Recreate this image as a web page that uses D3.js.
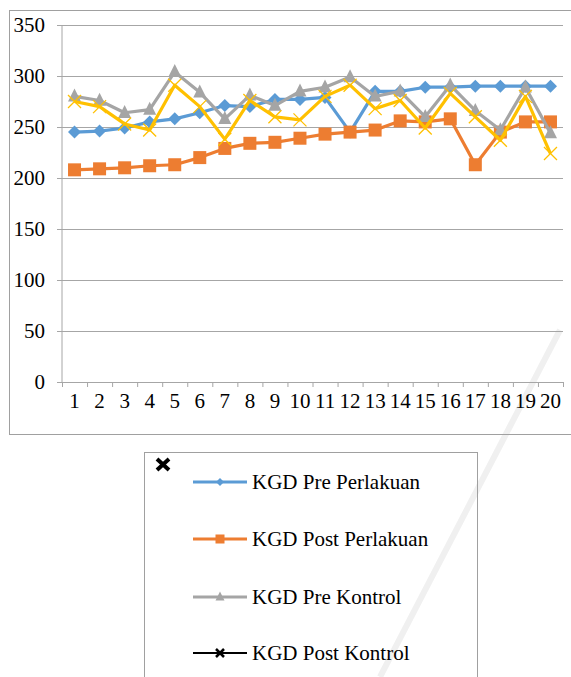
<!DOCTYPE html>
<html>
<head>
<meta charset="utf-8">
<script src="https://cdn.jsdelivr.net/npm/d3@7"></script>
<style>
  body { margin: 0; background: #fff; }
  svg text { font-family: "Liberation Serif", "Times New Roman", serif; }
</style>
</head>
<body>
<div id="chart"></div>
<script>
// data
var categories = d3.range(1, 21).map(String);
var preperlakuan  = [245, 246, 249, 255, 258, 264, 271, 270, 277, 277, 279, 245, 285, 285, 289, 289, 290, 290, 290, 290];
var postperlakuan = [208, 209, 210, 212, 213, 220, 229, 234, 235, 239, 243, 245, 247, 256, 255, 258, 213, 245, 255, 255];
var prekontrol    = [280, 276, 264, 267, 304, 284, 258, 281, 271, 285, 289, 299, 280, 285, 260, 291, 266, 247, 289, 244];
var postkontrol   = [275, 270, 253, 247, 291, 270, 238, 276, 260, 257, 280, 291, 268, 276, 249, 283, 260, 237, 280, 224];
var seriesNames = ['KGD Pre Perlakuan', 'KGD Post Perlakuan', 'KGD Pre Kontrol', 'KGD Post Kontrol'];
var yTicks = [0, 50, 100, 150, 200, 250, 300, 350];

var W = 571, H = 677;
var svg = d3.select('#chart').append('svg')
  .attr('width', W).attr('height', H);

// faint watermark stroke in the background
svg.append('line').attr('x1', 560).attr('y1', 330).attr('x2', 380).attr('y2', 677)
  .style('stroke', '#f0f0f0').style('stroke-width', 6);

// chart frame (right side runs off the page)
svg.append('rect').attr('x', 9.5).attr('y', 10.5).attr('width', 600).attr('height', 424)
  .style('fill', 'none').style('stroke', '#a0a0a0').style('stroke-width', 1);

var plotLeft = 62, plotRight = 563, plotTop = 25, plotBottom = 382;
var y = d3.scaleLinear().domain([0, 350]).range([plotBottom, plotTop]);
var x = d3.scaleBand().domain(categories).range([plotLeft, plotRight]);
var xTick = d3.scaleLinear().domain([0, 20]).range([plotLeft, plotRight]);

// y axis with gridlines
var gy = svg.append('g').attr('transform', 'translate(' + plotLeft + ',0)')
  .call(d3.axisLeft(y).tickValues(yTicks).tickSize(-(plotRight - plotLeft)).tickPadding(17));
gy.select('.domain').remove();
gy.selectAll('.tick line').attr('x1', -5).style('stroke', '#a6a6a6');
gy.selectAll('.tick text').style('font-size', '21px').style('fill', '#000');

svg.append('line').attr('x1', plotLeft).attr('x2', plotLeft).attr('y1', plotTop).attr('y2', plotBottom)
  .style('stroke', '#a6a6a6');

// x axis ticks between categories
var gx = svg.append('g').attr('transform', 'translate(0,' + plotBottom + ')')
  .call(d3.axisBottom(xTick).tickValues(d3.range(21)).tickSize(5).tickFormat(''));
gx.select('.domain').style('stroke', '#a6a6a6');
gx.selectAll('.tick line').style('stroke', '#a6a6a6');

var gl = svg.append('g').attr('transform', 'translate(0,' + plotBottom + ')')
  .call(d3.axisBottom(x).tickSize(0).tickPadding(11));
gl.select('.domain').remove();
gl.selectAll('.tick text').style('font-size', '21px').style('fill', '#000');

// series
var colors = ['#5b9bd5', '#ed7d31', '#a5a5a5', '#ffc000'];
var allData = [preperlakuan, postperlakuan, prekontrol, postkontrol];
var shapes = ['diamond', 'square', 'triangle', 'cross'];

function marker(g, shape, size, color) {
  if (shape == 'diamond') {
    var h = size / 2;
    g.append('path').attr('d', 'M0,' + (-h) + 'L' + h + ',0L0,' + h + 'L' + (-h) + ',0Z')
      .style('fill', color);
  } else if (shape == 'square') {
    g.append('rect').attr('x', -size / 2).attr('y', -size / 2).attr('width', size).attr('height', size)
      .style('fill', color);
  } else if (shape == 'triangle') {
    g.append('path').attr('d', 'M0,' + (-size * 0.6) + 'L' + (size / 2) + ',' + (size * 0.4) + 'L' + (-size / 2) + ',' + (size * 0.4) + 'Z')
      .style('fill', color);
  } else {
    var s = size / 2;
    g.append('path').attr('d', 'M' + (-s) + ',' + (-s) + 'L' + s + ',' + s + 'M' + s + ',' + (-s) + 'L' + (-s) + ',' + s)
      .style('stroke', color).style('stroke-width', 1.3).style('fill', 'none');
  }
}

var line = d3.line()
  .x(function (d, i) { return x(categories[i]) + x.bandwidth() / 2; })
  .y(function (d) { return y(d); });

var markerSizes = [13, 13, 13, 13];
allData.forEach(function (vals, s) {
  svg.append('path').datum(vals).attr('d', line)
    .style('fill', 'none').style('stroke', colors[s]).style('stroke-width', 3.2)
    .style('stroke-linejoin', 'round');
  vals.forEach(function (v, i) {
    var g = svg.append('g')
      .attr('transform', 'translate(' + (x(categories[i]) + x.bandwidth() / 2) + ',' + y(v) + ')');
    marker(g, shapes[s], markerSizes[s], colors[s]);
  });
});

// legend
svg.append('rect').attr('x', 144.5).attr('y', 452.5).attr('width', 333).attr('height', 240)
  .style('fill', 'none').style('stroke', '#a0a0a0');
svg.append('path').attr('d', 'M157,459L169,470M169,459L157,470')
  .style('stroke', '#000').style('stroke-width', 4);

var legendColors = ['#5b9bd5', '#ed7d31', '#a5a5a5', '#000'];
var legendY = [482, 539, 597, 653];
var legendMarker = [8, 9, 9, 9];
seriesNames.forEach(function (name, s) {
  var g = svg.append('g').attr('transform', 'translate(0,' + legendY[s] + ')');
  g.append('line').attr('x1', 193).attr('x2', 247)
    .style('stroke', legendColors[s]).style('stroke-width', s == 3 ? 2 : 3);
  var m = g.append('g').attr('transform', 'translate(220,0)');
  if (s == 3) {
    m.append('path').attr('d', 'M-4,-4L4,4M4,-4L-4,4').style('stroke', '#000').style('stroke-width', 2.5);
  } else {
    marker(m, shapes[s], legendMarker[s], legendColors[s]);
  }
  g.append('text').attr('x', 252).attr('y', 7).style('font-size', '21px').text(name);
});
</script>
</body>
</html>
